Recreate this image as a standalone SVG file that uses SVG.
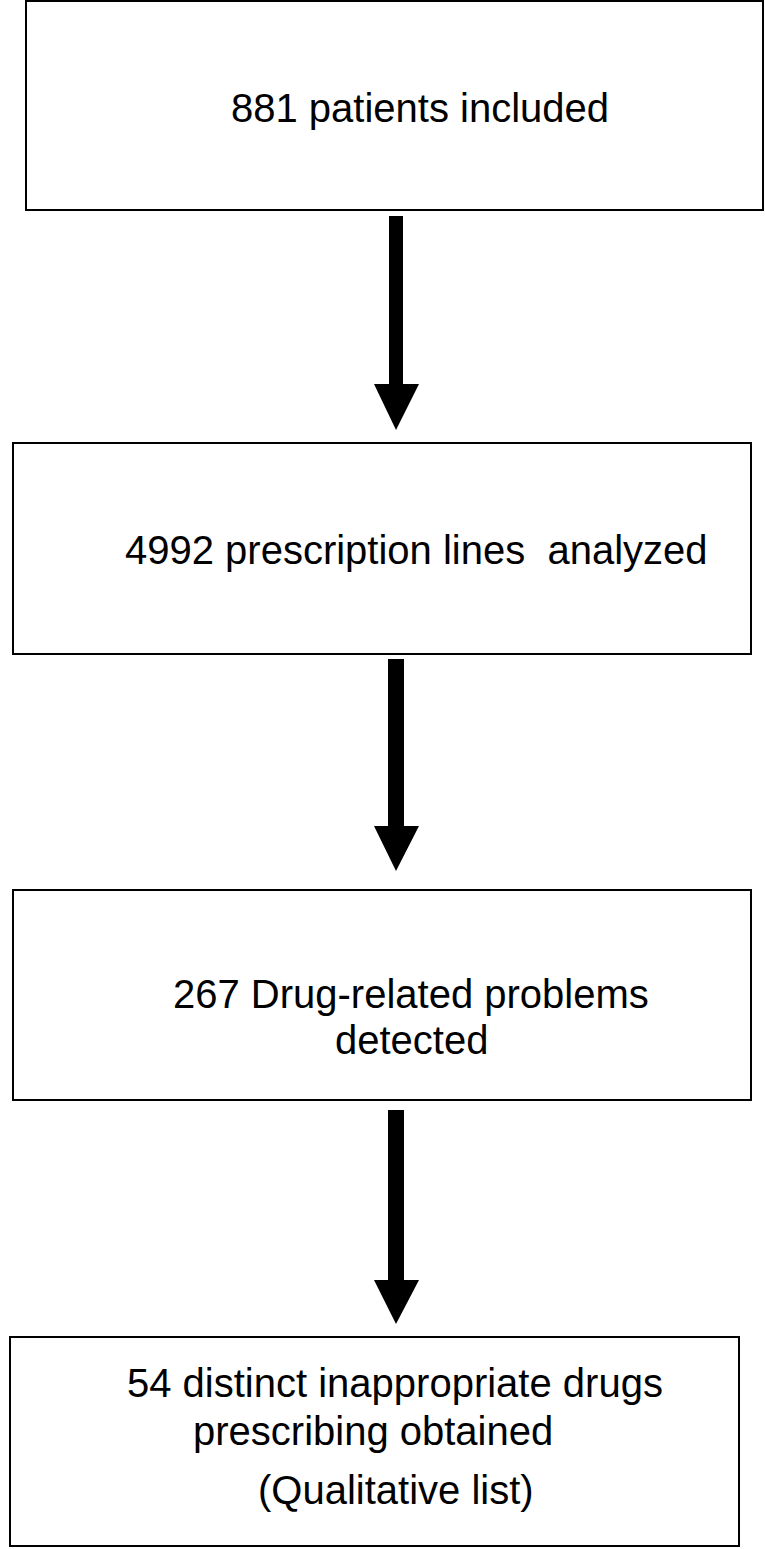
<svg xmlns="http://www.w3.org/2000/svg" width="765" height="1549" viewBox="0 0 765 1549">
<style>
.box{fill:#fff;stroke:#000;stroke-width:2}
.t{font-family:"Liberation Sans",Arial,sans-serif;font-size:40px;fill:#000}
.arr{fill:#000}
</style>
<rect width="765" height="1549" fill="#fff"/>
<g id="n1"><rect class="box" x="26" y="1" width="737" height="209"/><text class="t" x="231" y="122">881 patients included</text></g>
<g id="n2"><rect class="box" x="13" y="443" width="738" height="211"/><text class="t" x="125" y="564" xml:space="preserve">4992 prescription lines  analyzed</text></g>
<g id="n3"><rect class="box" x="13" y="890" width="738" height="210"/><text class="t" x="173" y="1008">267 Drug-related problems</text><text class="t" x="335" y="1054">detected</text></g>
<g id="n4"><rect class="box" x="10" y="1337" width="729" height="209"/><text class="t" x="127" y="1397">54 distinct inappropriate drugs</text><text class="t" x="193" y="1445">prescribing obtained</text><text class="t" x="258" y="1504">(Qualitative list)</text></g>
<g id="connectors">
<path class="arr" d="M389 216H403V384H419L396 430L374 384H389Z"/>
<path class="arr" d="M388 659H404V826H419L396 871L374 826H388Z"/>
<path class="arr" d="M388 1110H404V1280H419L396 1324L374 1280H388Z"/>
</g>
</svg>
